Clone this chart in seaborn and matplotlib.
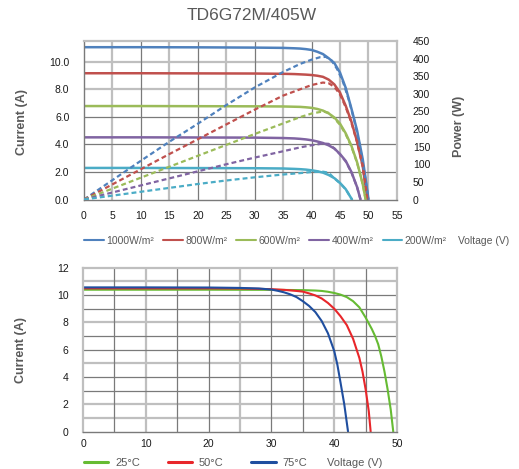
import matplotlib
matplotlib.use("Agg")
import pandas as pd
import matplotlib.pyplot as plt
import seaborn as sns
from matplotlib.lines import Line2D

sns.set_theme(style="white")
plt.rcParams["font.family"] = ["Liberation Sans", "DejaVu Sans"]

# ---- top chart: I-V and P-V curves at several irradiances ----
IRR_LABELS = ["1000W/m²", "800W/m²", "600W/m²", "400W/m²", "200W/m²"]
IRR_COLORS = ["#4F81BD", "#C0504D", "#9BBB59", "#8064A2", "#4BACC6"]

v_1000 = [0, 10, 20, 30, 35, 37, 38, 39, 40, 41, 42, 43, 44, 45, 46, 47, 48, 49, 49.5, 50.0]
i_1000 = [11.05, 11.05, 11.04, 11.02, 11.0, 10.97, 10.95, 10.91, 10.85, 10.72, 10.55, 10.25, 9.9, 9.2,
          8.1, 6.6, 5.0, 2.9, 1.5, 0]
v_800 = [0, 10, 20, 30, 35, 37, 38, 39, 40, 41, 42, 43, 44, 45, 46, 47, 48, 49, 49.8]
i_800 = [9.16, 9.16, 9.15, 9.14, 9.12, 9.1, 9.08, 9.06, 9.03, 8.98, 8.9, 8.7, 8.35, 7.75, 6.8, 5.65,
         4.2, 2.4, 0]
v_600 = [0, 10, 20, 30, 35, 37, 38, 39, 40, 41, 42, 43, 44, 45, 46, 47, 48, 49, 49.5]
i_600 = [6.78, 6.78, 6.77, 6.76, 6.75, 6.73, 6.72, 6.69, 6.65, 6.57, 6.45, 6.25, 5.95, 5.5, 4.8, 3.9,
         2.7, 1.1, 0]
v_400 = [0, 10, 20, 30, 35, 37, 38, 39, 40, 41, 42, 43, 44, 45, 46, 47, 48, 48.6]
i_400 = [4.51, 4.51, 4.5, 4.49, 4.46, 4.43, 4.4, 4.36, 4.3, 4.21, 4.1, 3.93, 3.7, 3.3, 2.8, 2.0, 0.9, 0]
v_200 = [0, 10, 20, 30, 35, 37, 38, 39, 40, 41, 42, 43, 44, 45, 46, 47.1]
i_200 = [2.29, 2.29, 2.28, 2.27, 2.25, 2.22, 2.2, 2.17, 2.12, 2.05, 1.95, 1.78, 1.55, 1.2, 0.75, 0]

pv_1000 = [0, 5, 10, 15, 20, 25, 30, 35, 38, 40, 41.5, 42.5, 43.5, 44.5, 45.5, 46.5, 47.5, 48.5, 49.5, 50.0]
p_1000 = [0, 55, 110, 164, 215, 268, 318, 362, 385, 397, 404, 405, 395, 370, 335, 285, 225, 150, 55, 0]
pv_800 = [0, 5, 10, 15, 20, 25, 30, 35, 38, 40, 42, 43, 44, 45, 46, 47, 48, 49, 49.8]
p_800 = [0, 43, 86, 129, 171, 213, 255, 295, 313, 325, 332, 330, 320, 298, 262, 218, 162, 92, 0]
pv_600 = [0, 5, 10, 15, 20, 25, 30, 35, 38, 40, 42, 43, 44, 45, 46, 47, 48, 49, 49.5]
p_600 = [0, 31, 62, 93, 124, 155, 186, 216, 234, 244, 250, 246, 230, 212, 185, 150, 104, 43, 0]
pv_400 = [0, 5, 10, 15, 20, 25, 30, 35, 38, 40, 42, 43, 44, 45, 46, 47, 48, 48.6]
p_400 = [0, 20, 40, 60, 80, 100, 119, 137, 148, 154, 159, 158, 145, 128, 108, 77, 35, 0]
pv_200 = [0, 5, 10, 15, 20, 25, 30, 35, 38, 40, 42, 43, 44, 45, 46, 47.1]
p_200 = [0, 11, 22, 33, 44, 54, 63, 71, 75, 78, 79, 76, 60, 46, 29, 0]

# ---- bottom chart: I-V curves at several cell temperatures ----
TEMP_LABELS = ["25°C", "50°C", "75°C"]
TEMP_COLORS = ["#66BB33", "#E8262A", "#1F4E9F"]

v_25 = [0, 10, 20, 30, 35, 37, 38, 39, 40, 41, 42, 43, 44, 45, 46, 46.5, 47, 47.5, 48, 48.5, 49, 49.4]
i_25 = [10.39, 10.39, 10.39, 10.38, 10.36, 10.33, 10.3, 10.24, 10.15, 10.03, 9.85, 9.55, 9.1, 8.35,
        7.5, 7.0, 6.4, 5.5, 4.4, 3.1, 1.6, 0]
v_50 = [0, 10, 20, 25, 30, 32, 34, 35, 36, 37, 38, 39, 40, 41, 42, 43, 44, 44.5, 45, 45.5, 45.8]
i_50 = [10.49, 10.49, 10.49, 10.48, 10.43, 10.38, 10.3, 10.25, 10.12, 9.97, 9.75, 9.42, 9.0, 8.45,
        7.8, 6.8, 5.4, 4.4, 3.1, 1.5, 0]
v_75 = [0, 10, 20, 25, 28, 30, 31, 32, 33, 34, 35, 36, 37, 38, 39, 40, 40.5, 41, 41.6, 42.2]
i_75 = [10.56, 10.56, 10.55, 10.52, 10.48, 10.4, 10.31, 10.2, 10.05, 9.85, 9.55, 9.2, 8.75, 8.1,
        7.2, 5.9, 4.9, 3.6, 2.0, 0]

LIGHT = "#bfbfbf"
DARK = "#7a7a7a"
TEXT = "#595959"


def long_form(xs, ys, labels, xname, yname, gname):
    parts = [pd.DataFrame({xname: x, yname: y, gname: g}) for x, y, g in zip(xs, ys, labels)]
    return pd.concat(parts, ignore_index=True)


def draw_grid(ax, xl, xd, yl, yd):
    for x in xl:
        ax.axvline(x, color=LIGHT, lw=1.6, zorder=0)
    for y in yl:
        ax.axhline(y, color=LIGHT, lw=1.6, zorder=0)
    for x in xd:
        ax.axvline(x, color=DARK, lw=0.9, zorder=0.5)
    for y in yd:
        ax.axhline(y, color=DARK, lw=0.9, zorder=0.5)


def style_spines(ax, dark_sides):
    for side, sp in ax.spines.items():
        if side in dark_sides:
            sp.set_color(DARK)
            sp.set_linewidth(1.0)
        else:
            sp.set_color(LIGHT)
            sp.set_linewidth(1.6)


fig = plt.figure(figsize=(5.19, 4.69), dpi=100)

# ---------------- top chart ----------------
iv_df = long_form([v_1000, v_800, v_600, v_400, v_200],
                  [i_1000, i_800, i_600, i_400, i_200], IRR_LABELS, "V", "I", "G")
pw_df = long_form([pv_1000, pv_800, pv_600, pv_400, pv_200],
                  [p_1000, p_800, p_600, p_400, p_200], IRR_LABELS, "V", "P", "G")

ax1 = fig.add_axes([0.1618, 0.5746, 0.603, 0.338])
draw_grid(ax1, [5, 15, 25, 35, 45, 50], [10, 20, 30, 40], [8, 10], [2, 4, 6])
sns.lineplot(data=iv_df, x="V", y="I", hue="G", hue_order=IRR_LABELS, palette=IRR_COLORS,
             sort=False, estimator=None, lw=1.8, legend=False, ax=ax1)
ax1.set_xlim(0, 55)
ax1.set_ylim(0, 11.5)
ax1.set_xticks(range(0, 56, 5))
ax1.set_yticks([0, 2, 4, 6, 8, 10])
ax1.set_yticklabels(["0.0", "2.0", "4.0", "6.0", "8.0", "10.0"])
ax1.set_xlabel("")
ax1.set_ylabel("")
ax1.tick_params(axis="y", length=0, pad=10.5, labelsize=7.5, labelcolor="#1a1a1a")
ax1.tick_params(axis="x", length=0, pad=8.5, labelsize=7.5, labelcolor="#1a1a1a")
style_spines(ax1, ["left", "bottom"])

ax2 = ax1.twinx()
sns.lineplot(data=pw_df, x="V", y="P", hue="G", hue_order=IRR_LABELS, palette=IRR_COLORS,
             sort=False, estimator=None, lw=1.6, linestyle=(0, (2.2, 1.4)), legend=False, ax=ax2)
ax2.set_ylim(0, 450)
ax2.set_yticks(range(0, 451, 50))
ax2.set_ylabel("")
ax2.tick_params(axis="y", length=0, pad=11.5, labelsize=7.5, labelcolor="#1a1a1a")
for sp in ax2.spines.values():
    sp.set_visible(False)

fig.text(252 / 519, 1 - 16 / 469, "TD6G72M/405W", ha="center", va="center",
         fontsize=12.5, color=TEXT)
fig.text(22 / 519, 1 - 122 / 469, "Current (A)", rotation=90, ha="center", va="center",
         fontsize=9, fontweight="bold", color=TEXT)
fig.text(459 / 519, 1 - 126 / 469, "Power (W)", rotation=90, ha="center", va="center",
         fontsize=9, fontweight="bold", color=TEXT)

top_handles = [Line2D([], [], color=c, lw=1.5) for c in IRR_COLORS]
fig.legend(top_handles, IRR_LABELS, loc="center left", bbox_to_anchor=(84 / 519, 1 - 241 / 469),
           ncol=5, frameon=False, fontsize=7.5, handlelength=1.9, handletextpad=0.25,
           columnspacing=0.85, borderpad=0, borderaxespad=0, labelcolor=TEXT)
fig.text(458 / 519, 1 - 241 / 469, "Voltage (V)", ha="left", va="center", fontsize=7.5, color=TEXT)

# ---------------- bottom chart ----------------
temp_df = long_form([v_25, v_50, v_75], [i_25, i_50, i_75], TEMP_LABELS, "V", "I", "T")

ax3 = fig.add_axes([0.160, 0.0795, 0.605, 0.3497])
draw_grid(ax3, [10, 25, 40], [5, 15, 20, 30, 35, 45], [1, 2, 5, 8, 11], [3, 4, 6, 7, 9, 10])
sns.lineplot(data=temp_df, x="V", y="I", hue="T", hue_order=TEMP_LABELS, palette=TEMP_COLORS,
             sort=False, estimator=None, lw=1.5, legend=False, ax=ax3)
ax3.set_xlim(0, 50)
ax3.set_ylim(0, 12)
ax3.set_xticks(range(0, 51, 10))
ax3.set_yticks(range(0, 13, 2))
ax3.set_xlabel("")
ax3.set_ylabel("")
ax3.tick_params(axis="y", length=0, pad=10.5, labelsize=7.5, labelcolor="#1a1a1a")
ax3.tick_params(axis="x", length=0, pad=5.5, labelsize=7.5, labelcolor="#1a1a1a")
style_spines(ax3, ["bottom"])

fig.text(21 / 519, 1 - 350 / 469, "Current (A)", rotation=90, ha="center", va="center",
         fontsize=9, fontweight="bold", color=TEXT)

bot_handles = [Line2D([], [], color=c, lw=2.2) for c in TEMP_COLORS]
fig.legend(bot_handles, TEMP_LABELS, loc="center left", bbox_to_anchor=(84 / 519, 1 - 463 / 469),
           ncol=3, frameon=False, fontsize=8, handlelength=2.2, handletextpad=0.6,
           columnspacing=2.5, borderpad=0, borderaxespad=0, labelcolor=TEXT)
fig.text(327 / 519, 1 - 463 / 469, "Voltage (V)", ha="left", va="center", fontsize=8, color=TEXT)

fig.savefig("out.png", dpi=100)
